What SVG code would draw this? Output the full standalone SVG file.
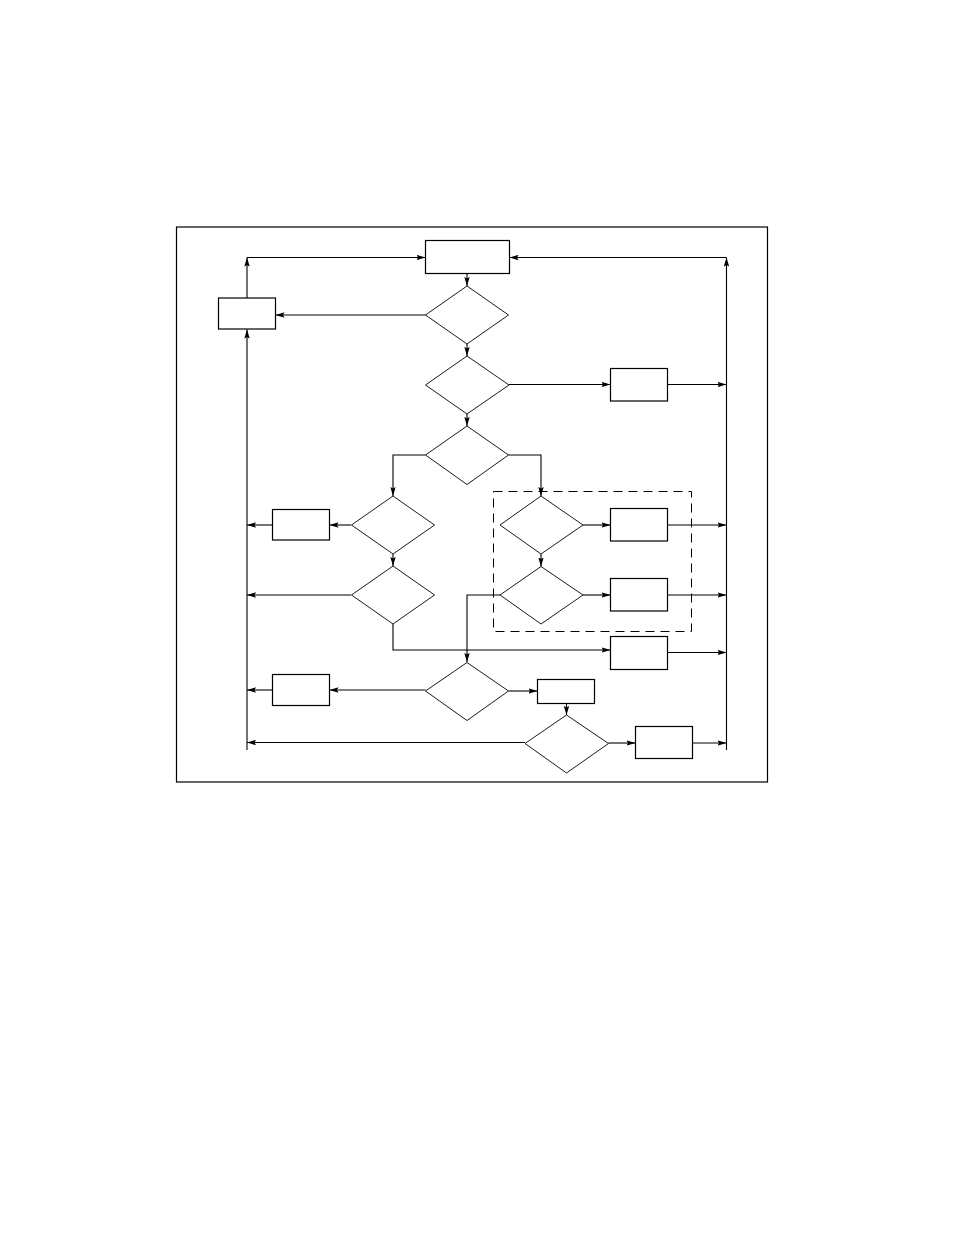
<svg xmlns="http://www.w3.org/2000/svg" width="954" height="1235" viewBox="0 0 954 1235">
<style>
.frame{fill:none;stroke:#000;stroke-width:1.2}
.box{fill:#fff;stroke:#000;stroke-width:1.2}
.dia{fill:#fff;stroke:#000;stroke-width:0.9}
.c{fill:none;stroke:#000;stroke-width:1.1}
.a{fill:none;stroke:#000;stroke-width:1.1;marker-end:url(#ah)}
.dash{fill:none;stroke:#000;stroke-width:1;stroke-dasharray:9,6}
</style>
<defs>
<marker id="ah" markerUnits="userSpaceOnUse" markerWidth="10" markerHeight="6" refX="9" refY="3" orient="auto">
<path d="M0,0.3 L9,3 L0,5.7 L1.5,3 z" fill="#000"/>
</marker>
</defs>
<rect width="954" height="1235" fill="#fff"/>
<rect class="frame" x="176.5" y="227" width="591" height="555"/>
<rect class="dash" x="493.5" y="491.5" width="198" height="140"/>
<g id="connectors">
<path class="a" d="M467,273.5 V286"/>
<path class="a" d="M467,344 V356"/>
<path class="a" d="M467,414 V426"/>
<path class="a" d="M425.5,315 H275.5"/>
<path class="a" d="M247,298 V257.5"/>
<path class="a" d="M247,257.5 H425.5"/>
<path class="a" d="M247,750 V329.5"/>
<path class="a" d="M726.5,750 V257.5"/>
<path class="a" d="M726.5,257.5 H509.5"/>
<path class="a" d="M509,384.5 H610.5"/>
<path class="a" d="M667.5,384.5 H726.5"/>
<path class="a" d="M425.5,455 H393 V496"/>
<path class="a" d="M508.5,455 H541 V496"/>
<path class="a" d="M351,525 H329.5"/>
<path class="a" d="M272.5,525 H247"/>
<path class="a" d="M393,554 V566"/>
<path class="a" d="M351,595 H247"/>
<path class="a" d="M393,624 V650 H610.5"/>
<path class="a" d="M667.5,652.5 H726.5"/>
<path class="a" d="M583,525 H610.5"/>
<path class="a" d="M667.5,525 H726.5"/>
<path class="a" d="M541,554 V566.5"/>
<path class="a" d="M583,595 H610.5"/>
<path class="a" d="M667.5,595 H726.5"/>
<path class="a" d="M500,595 H467 V662"/>
<path class="a" d="M425.5,690 H329.5"/>
<path class="a" d="M272.5,690 H247"/>
<path class="a" d="M508.5,691 H537.5"/>
<path class="a" d="M566.5,703.5 V715"/>
<path class="a" d="M608.5,743 H635.5"/>
<path class="a" d="M692.5,743 H726.5"/>
<path class="a" d="M525,742.5 H247"/>
</g>
<g id="n-top"><rect class="box" x="425.5" y="240.5" width="84" height="33"/></g>
<g id="n-left"><rect class="box" x="218.5" y="298" width="57" height="31"/></g>
<g id="d1"><polygon class="dia" points="467,286 508.5,315 467,344 425.5,315"/></g>
<g id="d2"><polygon class="dia" points="467,356 509,385 467,414 425.5,385"/></g>
<g id="b2"><rect class="box" x="610.5" y="368.5" width="57" height="32.5"/></g>
<g id="d3"><polygon class="dia" points="467,426 508.5,455 467,484.5 425.5,455"/></g>
<g id="d4"><polygon class="dia" points="393,496 434.5,525 393,554 351.5,525"/></g>
<g id="b3"><rect class="box" x="272.5" y="509.5" width="57" height="30.5"/></g>
<g id="d6"><polygon class="dia" points="393,566 434.5,595 393,624 351.5,595"/></g>
<g id="d5"><polygon class="dia" points="541,496 583,525 541,554 500,525"/></g>
<g id="b4"><rect class="box" x="610.5" y="508.5" width="57" height="32.5"/></g>
<g id="d7"><polygon class="dia" points="541,566.5 583,595 541,624 500,595"/></g>
<g id="b5"><rect class="box" x="610.5" y="578.5" width="57" height="32.5"/></g>
<g id="b6"><rect class="box" x="610.5" y="636.5" width="57" height="33"/></g>
<g id="d8"><polygon class="dia" points="467,662.5 508.5,691 467,720.5 425.5,691"/></g>
<g id="b7"><rect class="box" x="272.5" y="674.5" width="57" height="31"/></g>
<g id="b8"><rect class="box" x="537.5" y="679.5" width="57" height="24"/></g>
<g id="d9"><polygon class="dia" points="566.5,715 608.5,743.5 566.5,773 525,743.5"/></g>
<g id="b9"><rect class="box" x="635.5" y="726.5" width="57" height="32"/></g>
</svg>
